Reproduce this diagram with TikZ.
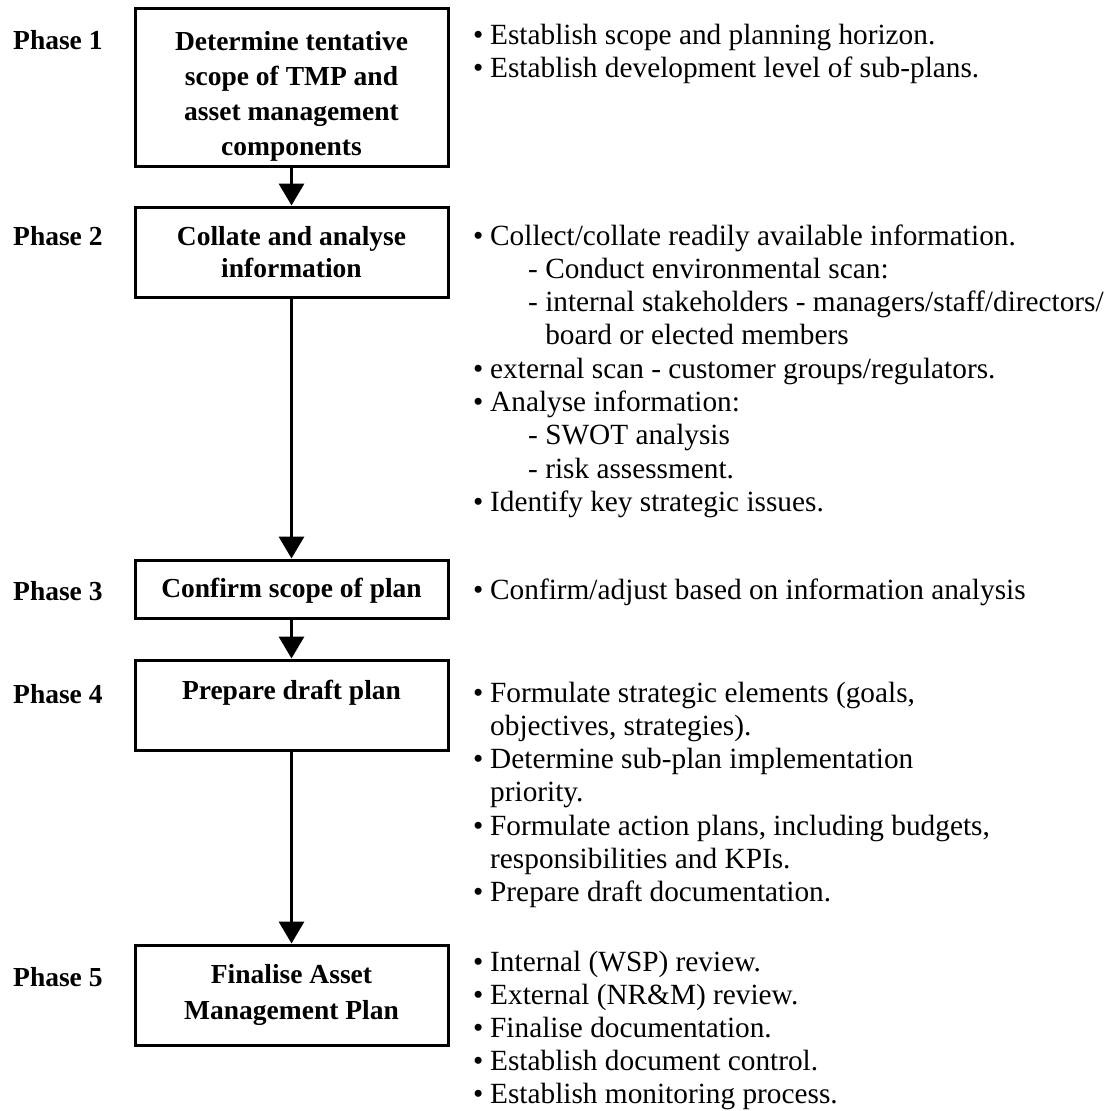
\documentclass[tikz,border=0pt]{standalone}
\usepackage{fontspec}
\setmainfont{Liberation Serif}
\usetikzlibrary{arrows.meta}

% list helpers: bullet with gap, continuation indent, sub-item indent
\newcommand\bu{\makebox[17pt][l]{•}}
\newcommand\co{\hspace*{17pt}}
\newcommand\su{\hspace*{55pt}}

\begin{document}
\begin{tikzpicture}[x=1pt,y=-1pt,
  phase/.style={anchor=west,inner sep=0pt,font=\fontsize{27.5}{33}\selectfont\bfseries},
  stepbox/.style={draw,line width=3pt,inner sep=0pt,minimum width=313pt},
  boxtext/.style={align=center,inner sep=0pt,font=\fontsize{27.5}{35}\selectfont\bfseries},
  item/.style={anchor=base west,inner sep=0pt,font=\fontsize{29.3}{33}\selectfont},
  flow/.style={line width=3.5pt,-{Triangle[length=22pt,width=25pt]}}]

\useasboundingbox (0,0) rectangle (1112,1111);

% phase labels
\node[phase] (ph1) at (13,40)  {Phase 1};
\node[phase] (ph2) at (13,236) {Phase 2};
\node[phase] (ph3) at (13,591) {Phase 3};
\node[phase] (ph4) at (13,694) {Phase 4};
\node[phase] (ph5) at (13,977) {Phase 5};

% process boxes
\node[stepbox,minimum height=158pt] (b1) at (291.5,87)  {};
\node[stepbox,minimum height=90pt]  (b2) at (291.5,252) {};
\node[stepbox,minimum height=58pt]  (b3) at (291.5,589) {};
\node[stepbox,minimum height=90pt]  (b4) at (291.5,705) {};
\node[stepbox,minimum height=100pt] (b5) at (291.5,995) {};

% box titles
\node[boxtext] (t1) at (291.5,96)  {Determine tentative\\scope of TMP and\\asset management\\components};
\node[boxtext,font=\fontsize{27.5}{32}\selectfont\bfseries] (t2) at (291.5,252) {Collate and analyse\\information};
\node[boxtext] (t3) at (291.5,591) {Confirm scope of plan};
\node[boxtext] (t4) at (291.5,693) {Prepare draft plan};
\node[boxtext,font=\fontsize{27.5}{36}\selectfont\bfseries] (t5) at (291.5,995) {Finalise Asset\\Management Plan};

% connectors
\draw[flow] (b1) -- (b2);
\draw[flow] (b2) -- (b3);
\draw[flow] (b3) -- (b4);
\draw[flow] (b4) -- (b5);

% activity lists
\foreach \txt [count=\i from 0] in {
  {\bu Establish scope and planning horizon.},
  {\bu Establish development level of sub-plans.}}
  \node[item] (a1-\i) at (473,{44+33*\i}) {\txt};

\foreach \txt [count=\i from 0] in {
  {\bu Collect/collate readily available information.},
  {\su - Conduct environmental scan:},
  {\su - internal stakeholders - managers/staff/directors/},
  {\su\phantom{- }board or elected members},
  {\bu external scan - customer groups/regulators.},
  {\bu Analyse information:},
  {\su - SWOT analysis},
  {\su - risk assessment.},
  {\bu Identify key strategic issues.}}
  \node[item] (a2-\i) at (473,{245+33.3*\i}) {\txt};

\node[item] (a3-0) at (473,599) {\bu Confirm/adjust based on information analysis};

\foreach \txt [count=\i from 0] in {
  {\bu Formulate strategic elements (goals,},
  {\co objectives, strategies).},
  {\bu Determine sub-plan implementation},
  {\co priority.},
  {\bu Formulate action plans, including budgets,},
  {\co responsibilities and KPIs.},
  {\bu Prepare draft documentation.}}
  \node[item] (a4-\i) at (473,{702+33.3*\i}) {\txt};

\foreach \txt [count=\i from 0] in {
  {\bu Internal (WSP) review.},
  {\bu External (NR\&M) review.},
  {\bu Finalise documentation.},
  {\bu Establish document control.},
  {\bu Establish monitoring process.}}
  \node[item] (a5-\i) at (473,{971+33*\i}) {\txt};

\end{tikzpicture}
\end{document}
